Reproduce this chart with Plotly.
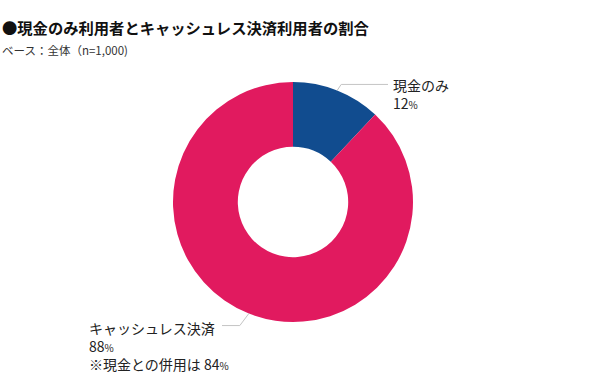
import math
import plotly.graph_objects as go

# ---- data ----
categories = ["現金のみ", "キャッシュレス決済"]
values = [12, 88]
colors = ["#114c8f", "#e11a5f"]
extra_notes = ["", "※現金との併用は 84"]
title_text = "●現金のみ利用者とキャッシュレス決済利用者の割合"
subtitle_text = "ベース：全体（n=1,000)"

W, H = 600, 390
cx, cy, R = 293, 202, 120  # pie center & radius in px
hole = 0.46

def px(x):
    return x / W

def py(y):
    return 1 - y / H

fig = go.Figure()
fig.add_trace(go.Pie(
    values=values,
    labels=categories,
    marker=dict(colors=colors, line=dict(width=0)),
    hole=hole,
    sort=False,
    direction="clockwise",
    rotation=0,
    textinfo="none",
    hoverinfo="label+percent",
    showlegend=False,
    domain=dict(x=[px(cx - R), px(cx + R)], y=[py(cy + R), py(cy - R)]),
))

total = sum(values)
pct_style = "<span style='font-size:10px'>%</span>"
font_lbl = dict(family="Noto Sans CJK JP", size=14, color="#222")

# label layout (px): elbow offset, horizontal end, text anchor
label_cfg = [
    dict(elbow=(4, -6), hend=388, tx=391, ty=73, xanchor="left"),
    dict(elbow=(-9, 12), hend=222, tx=87, ty=316, xanchor="left"),
]

shapes = []
annotations = []
cum = 0
for i, v in enumerate(values):
    mid = (cum + v / 2) / total * 2 * math.pi
    cum += v
    sx = cx + R * math.sin(mid)
    sy = cy - R * math.cos(mid)
    cfg = label_cfg[i]
    ex, ey = sx + cfg["elbow"][0], sy + cfg["elbow"][1]
    path = f"M {px(sx)},{py(sy)} L {px(ex)},{py(ey)} L {px(cfg['hend'])},{py(ey)}"
    shapes.append(dict(type="path", xref="paper", yref="paper", path=path,
                       line=dict(color="#c4c4c4", width=1)))
    pct = round(v / total * 100)
    txt = f"{categories[i]}<br>{pct}{pct_style}"
    if extra_notes[i]:
        txt += f"<br>{extra_notes[i]}{pct_style}"
    annotations.append(dict(xref="paper", yref="paper", x=px(cfg["tx"]), y=py(cfg["ty"]),
                            xanchor=cfg["xanchor"], yanchor="top", align="left",
                            text=txt, showarrow=False, font=font_lbl))

annotations.append(dict(xref="paper", yref="paper", x=0, y=py(27), xanchor="left",
                        yanchor="middle", showarrow=False, text=f"<b>{title_text}</b>",
                        font=dict(family="Noto Sans CJK JP", size=15.3, color="#111")))
annotations.append(dict(xref="paper", yref="paper", x=0, y=py(50), xanchor="left",
                        yanchor="middle", showarrow=False, text=subtitle_text,
                        font=dict(family="Noto Sans CJK JP", size=11.5, color="#333")))

fig.update_layout(
    width=W, height=H,
    margin=dict(l=0, r=0, t=0, b=0),
    paper_bgcolor="white", plot_bgcolor="white",
    shapes=shapes, annotations=annotations,
)

fig.write_html("out.html", config={"displayModeBar": False},
               post_script="document.body.style.margin='0';")
